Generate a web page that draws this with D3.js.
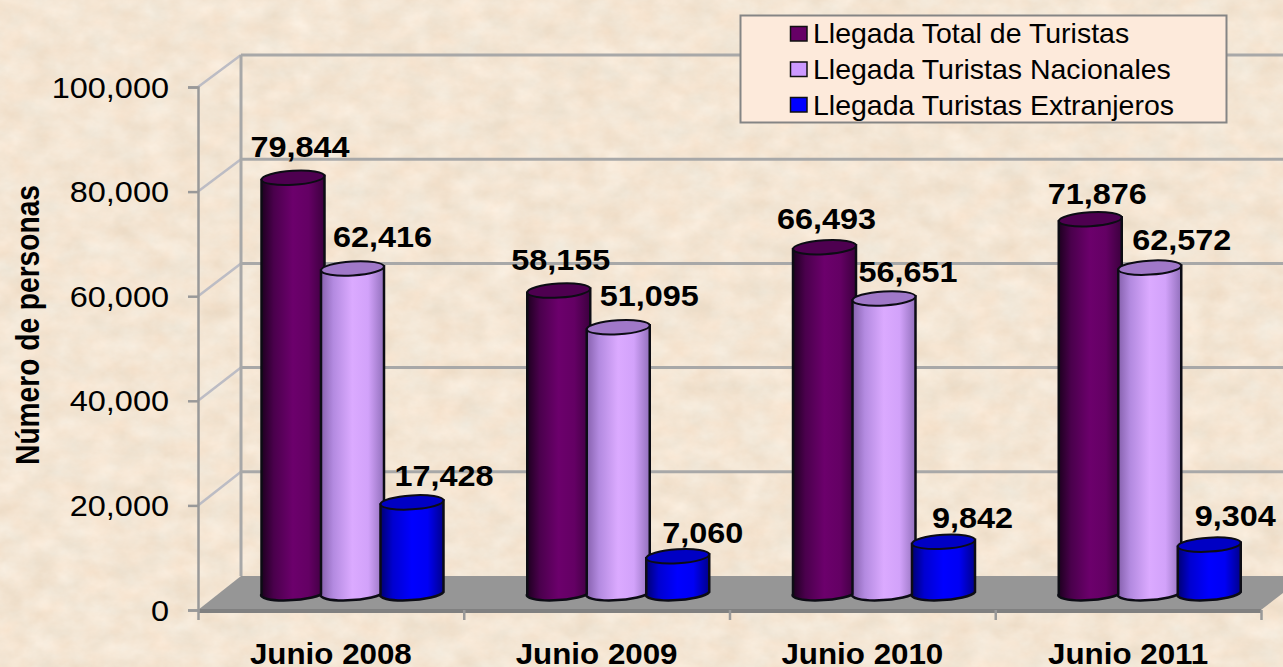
<!DOCTYPE html>
<html>
<head>
<meta charset="utf-8">
<script src="https://cdnjs.cloudflare.com/ajax/libs/d3/7.8.5/d3.min.js"></script>
<style>
  html, body { margin: 0; padding: 0; background: #f5e6d0; overflow: hidden; }
  svg { display: block; }
  text { font-family: "Liberation Sans", Arial, sans-serif; fill: #000; }
</style>
</head>
<body>
<svg id="main-svg"></svg>
<script>
const categories = ["Junio 2008", "Junio 2009", "Junio 2010", "Junio 2011"];
const seriesNames = ["Llegada Total de Turistas", "Llegada Turistas Nacionales", "Llegada Turistas Extranjeros"];
const totalValues = [79844, 58155, 66493, 71876];
const nationalValues = [62416, 51095, 56651, 62572];
const foreignValues = [17428, 7060, 9842, 9304];
const yTicks = [0, 20000, 40000, 60000, 80000, 100000];

const allValues = [totalValues, nationalValues, foreignValues];

// FIXED
const CANVAS_WIDTH = 1283;
const CANVAS_HEIGHT = 667;
const FRONT_LEFT = 198;
const FRONT_RIGHT = 1261;
const BACK_LEFT = 241;
const RY = 7;
const BAR_HALF = 31.5;

const svg = d3.select("#main-svg").attr("width", CANVAS_WIDTH).attr("height", CANVAS_HEIGHT);
const defs = svg.append("defs");

// parchment background
const paper = defs.append("filter").attr("id", "paper")
  .attr("color-interpolation-filters", "sRGB")
  .attr("x", 0).attr("y", 0).attr("width", "100%").attr("height", "100%");
paper.append("feTurbulence").attr("type", "fractalNoise")
  .attr("baseFrequency", "0.035 0.05").attr("numOctaves", 5).attr("seed", 7);
paper.append("feColorMatrix").attr("type", "matrix")
  .attr("values", "0.07 0.02 0 0 0.91  0.05 0.07 0 0 0.84  0.05 0.11 0 0 0.75  0 0 0 0 1");

svg.append("rect").attr("width", CANVAS_WIDTH).attr("height", CANVAS_HEIGHT)
  .attr("fill", "#f5e6d0").attr("filter", "url(#paper)");

// scales
const yBack = d3.scaleLinear().domain([0, 100000]).range([576, 55]);
const yFront = d3.scaleLinear().domain([0, 100000]).range([610, 87]);
const yBar = d3.scaleLinear().domain([0, 100000]).range([593, 73]);
const xIndex = d3.scaleLinear().domain([0, categories.length]).range([FRONT_LEFT, FRONT_RIGHT]);
const xGroup = d3.scaleBand().domain(categories).range([FRONT_LEFT, FRONT_RIGHT]);
const xSeries = d3.scalePoint().domain(seriesNames).range([95, 214]);

// back wall and side wall lines
const grid = svg.append("g");
grid.selectAll(".back").data(yTicks.slice(1)).enter().append("line")
  .attr("x1", BACK_LEFT).attr("x2", CANVAS_WIDTH)
  .attr("y1", d => yBack(d)).attr("y2", d => yBack(d))
  .attr("stroke", "#a8a8a8").attr("stroke-width", 3);
grid.selectAll(".side").data(yTicks.slice(1)).enter().append("line")
  .attr("x1", FRONT_LEFT).attr("x2", BACK_LEFT)
  .attr("y1", d => yFront(d)).attr("y2", d => yBack(d))
  .attr("stroke", "#bcbcc4").attr("stroke-width", 2.5);
grid.append("line").attr("x1", BACK_LEFT).attr("x2", BACK_LEFT)
  .attr("y1", yBack(100000)).attr("y2", yBack(0))
  .attr("stroke", "#a8a8a8").attr("stroke-width", 3);

// floor
svg.append("path")
  .attr("d", `M${FRONT_LEFT},${yFront(0)} L${BACK_LEFT},${yBack(0)} L${CANVAS_WIDTH},${yBack(0)} L${CANVAS_WIDTH},${yBack(0) + 17} L${FRONT_RIGHT},${yFront(0)} Z`)
  .attr("fill", "#969696");
svg.append("rect").attr("x", FRONT_LEFT).attr("y", yFront(0) - 1)
  .attr("width", FRONT_RIGHT - FRONT_LEFT).attr("height", 4).attr("fill", "#808080");

// axes
const yAxis = svg.append("g").attr("transform", `translate(${FRONT_LEFT},0)`)
  .call(d3.axisLeft(yFront).tickValues(yTicks).tickFormat(d3.format(",")).tickSize(10).tickPadding(0));
yAxis.selectAll("path, line").attr("stroke", "#999").attr("stroke-width", 2.5);
yAxis.selectAll("text")
  .attr("x", 0).attr("dy", "0.35em")
  .attr("transform", "translate(-29,0) scale(1.12,1)")
  .style("font-size", "29px").style("font-family", '"Liberation Sans", Arial, sans-serif');

const xAxis = svg.append("g").attr("transform", `translate(0,${yFront(0)})`)
  .call(d3.axisBottom(xIndex).ticks(categories.length).tickFormat("").tickSize(10));
xAxis.selectAll("path, line").attr("stroke", "#999").attr("stroke-width", 2.5);
xAxis.select("path").attr("stroke", "none");

// baseline sits low like in the original, the glyphs still fit above the edge
svg.selectAll(".cat").data(categories).enter().append("text")
  .attr("class", "cat")
  .attr("text-anchor", "middle")
  .attr("transform", d => `translate(${xGroup(d) + xGroup.bandwidth() / 2},664) scale(1.08,1)`)
  .style("font-size", "29px").style("font-weight", "bold")
  .text(d => d);

svg.append("text")
  .attr("text-anchor", "middle")
  .attr("transform", "translate(39,325) rotate(-90) scale(0.853,1)")
  .style("font-size", "33px").style("font-weight", "bold")
  .text("Número de personas");

// cylinders
const colors = [
  { stops: ["#1c001e", "#4a004c", "#6c006c", "#640064", "#3c003e"], top: "#4e0050", swatch: "#660066" },
  { stops: ["#8560ac", "#b38ae0", "#dbaaff", "#d2a2fa", "#9270bc"], top: "#a078c8", swatch: "#cc99ff" },
  { stops: ["#000070", "#0000d0", "#0000ff", "#0000f4", "#00008c"], top: "#0000c4", swatch: "#0000ff" }
];
colors.forEach((c, i) => {
  const g = defs.append("linearGradient").attr("id", `cyl${i}`);
  [0, 0.2, 0.5, 0.75, 1].forEach((o, j) => {
    g.append("stop").attr("offset", o).attr("stop-color", c.stops[j]);
  });
});

const bars = svg.append("g");
seriesNames.forEach((name, s) => {
  categories.forEach((cat, c) => {
    const cx = xGroup(cat) + xSeries(name);
    const topY = yBar(allValues[s][c]);
    const baseY = yBar(0);
    const g = bars.append("g");
    g.append("path")
      .attr("d", `M${cx - BAR_HALF},${topY + 2} L${cx - BAR_HALF},${baseY + 1} A${BAR_HALF},${RY} -4 0 0 ${cx + BAR_HALF},${baseY - 1} L${cx + BAR_HALF},${topY - 2} Z`)
      .attr("fill", `url(#cyl${s})`)
      .attr("stroke", "#0c0c14").attr("stroke-width", 2.5);
    g.append("ellipse")
      .attr("cx", cx).attr("cy", topY).attr("rx", BAR_HALF).attr("ry", RY)
      .attr("transform", `rotate(-3.5 ${cx} ${topY})`)
      .attr("fill", colors[s].top)
      .attr("stroke", "#0c0c14").attr("stroke-width", 2);
  });
});

// hand placed data labels, offset from the centre of the top of the bar
const labelDx = [[7, 2, 2, 7], [30, 31, 24, 32], [32, 25, 29, 26]];
const labelDy = [[-21, -21, -18, -15], [-21, -21, -16, -18], [-16, -13, -14, -19]];
seriesNames.forEach((name, s) => {
  categories.forEach((cat, c) => {
    const v = allValues[s][c];
    svg.append("text")
      .attr("text-anchor", "middle")
      .attr("transform", `translate(${xGroup(cat) + xSeries(name) + labelDx[s][c]},${yBar(v) + labelDy[s][c]}) scale(1.08,1)`)
      .style("font-size", "30px").style("font-weight", "bold")
      .text(d3.format(",")(v));
  });
});

// legend
const legend = svg.append("g");
legend.append("rect").attr("x", 740.5).attr("y", 15.5).attr("width", 486).attr("height", 107)
  .attr("fill", "#fdeadb").attr("stroke", "#858585").attr("stroke-width", 2);
seriesNames.forEach((name, s) => {
  legend.append("rect").attr("x", 790.5).attr("y", 26.5 + s * 35.5).attr("width", 16.5).attr("height", 14.5)
    .attr("fill", colors[s].swatch).attr("stroke", "#111").attr("stroke-width", 1.5);
  legend.append("text")
    .attr("transform", `translate(813,${43 + s * 36}) scale(1.055,1)`)
    .style("font-size", "27px")
    .text(name);
});
</script>
</body>
</html>
